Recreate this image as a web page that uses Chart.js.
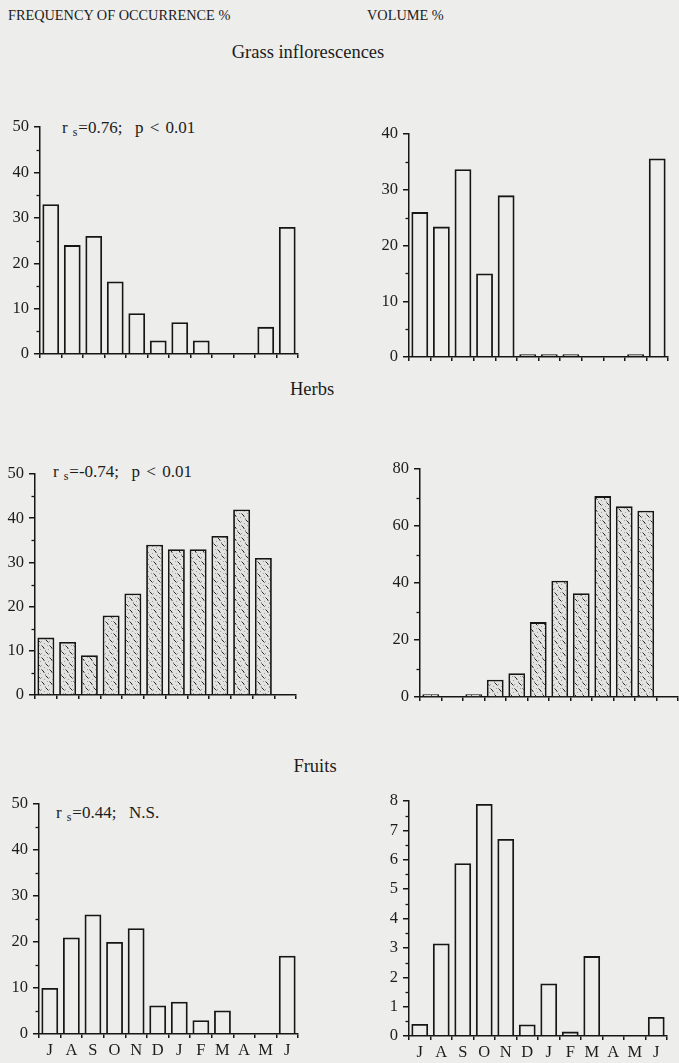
<!DOCTYPE html>
<html><head><meta charset="utf-8">
<script src="https://cdn.jsdelivr.net/npm/chart.js@4.4.0/dist/chart.umd.min.js"></script>
<style>
html,body{margin:0;padding:0;background:#ededeb;}
body{width:679px;height:1063px;position:relative;overflow:hidden;font-family:"Liberation Serif","Times New Roman",serif;color:#1c1c1c;}
.t{position:absolute;white-space:nowrap;line-height:1;}
.hdr{font-size:14.3px;}
.sec{font-size:18.5px;transform:translateX(-50%);}
.ann{font-size:17px;word-spacing:2px;}
.ann sub{font-size:12px;vertical-align:-3px;margin:0 1px 0 5px;}
.pane{position:absolute;}
</style></head><body>
<div class="t hdr" style="left:8px;top:8px;">FREQUENCY OF OCCURRENCE %</div>
<div class="t hdr" style="left:367px;top:8px;">VOLUME %</div>
<div class="t sec" style="left:308px;top:43px;">Grass inflorescences</div>
<div class="t sec" style="left:312px;top:380px;">Herbs</div>
<div class="t sec" style="left:315px;top:757px;">Fruits</div>
<div class="t ann" style="left:62px;top:119px;">r<sub>s</sub>=0.76;&nbsp; p &lt; 0.01</div>
<div class="t ann" style="left:53px;top:463px;">r<sub>s</sub>=-0.74;&nbsp; p &lt; 0.01</div>
<div class="t ann" style="left:56px;top:804px;">r<sub>s</sub>=0.44;&nbsp; N.S.</div>
<script>
const months = ['J','A','S','O','N','D','J','F','M','A','M','J'];
const grassFreq  = [33, 24, 26, 16, 9, 3, 7, 3, 0, 0, 6, 28];
const grassVol   = [26, 23.4, 33.7, 15, 29, 0.5, 0.5, 0.5, 0, 0, 0.5, 35.6];
const herbsFreq  = [13, 12, 9, 18, 23, 34, 33, 33, 36, 42, 31, 0];
const herbsVol   = [1, 0.4, 1, 6.1, 8.4, 26.3, 40.8, 36.4, 70.5, 66.9, 65.4, 0];
const fruitsFreq = [10, 21, 26, 20, 23, 6.2, 7, 3, 5.1, 0, 0, 17];
const fruitsVol  = [0.41, 3.15, 5.88, 7.9, 6.71, 0.39, 1.79, 0.15, 2.72, 0, 0, 0.65];
const freqMax = 50, freqStep = 10, freqMinor = 5;

const FONT = '"Liberation Serif","Times New Roman",serif';
const INK = '#161616';

function makePattern(){
  const c = document.createElement('canvas'); c.width = 8; c.height = 12;
  const g = c.getContext('2d');
  g.fillStyle = '#e2e2e0'; g.fillRect(0,0,8,12);
  g.fillStyle = '#a0a0a0';
  [[0,0],[4,3],[2,7],[6,10],[7,5],[3,11]].forEach(([x,y])=>g.fillRect(x,y,1,1));
  g.strokeStyle = '#2a2a2a'; g.lineWidth = 1;
  g.beginPath();
  g.moveTo(0.5,1.5); g.lineTo(3.5,4.5);
  g.moveTo(4.5,7.5); g.lineTo(7.5,10.5);
  g.stroke();
  return g.createPattern(c,'repeat');
}

const minorTicks = {
  id: 'minorTicks',
  afterDraw(chart, args, opts){
    const s = chart.scales.y;
    if (!opts || !opts.step) return;
    const ctx = chart.ctx; ctx.save();
    ctx.strokeStyle = INK; ctx.lineWidth = 1.3;
    const n = Math.round((s.max - s.min)/opts.step);
    for (let i=1;i<n;i++){
      const v = s.min + i*opts.step;
      const r = v/opts.major;
      if (Math.abs(r-Math.round(r))<1e-6) continue;
      const y = Math.round(s.getPixelForValue(v))+0.5;
      ctx.beginPath(); ctx.moveTo(s.right-3.5,y); ctx.lineTo(s.right,y); ctx.stroke();
    }
    ctx.restore();
  }
};

function makeChart(p){
  const padL = 46, padT = 16, padR = 6;
  const bottom = p.labels ? 34 : 8;
  const W = (p.right-p.left)+padL+padR, H = (p.bottom-p.top)+padT+bottom;
  const div = document.createElement('div'); div.className='pane';
  div.style.left=(p.left-padL)+'px'; div.style.top=(p.top-padT)+'px';
  div.style.width=W+'px'; div.style.height=H+'px';
  const cv = document.createElement('canvas'); div.appendChild(cv); document.body.appendChild(div);
  new Chart(cv, {
    type:'bar',
    data:{labels:months, datasets:[{data:p.data, backgroundColor:p.fill, borderColor:INK, borderWidth:1.8,
      borderSkipped:'start', barPercentage:0.78, categoryPercentage:1}]},
    options:{responsive:true, maintainAspectRatio:false, animation:false, events:[],
      layout:{padding:{left:0, top:padT, right:padR, bottom:0}},
      plugins:{legend:{display:false}, tooltip:{enabled:false}, minorTicks:{step:p.minor, major:p.major}},
      scales:{
        x:{offset:true,
           grid:{offset:true, drawOnChartArea:false, drawTicks:true, tickLength:4, color:INK, lineWidth:1.5},
           border:{display:true, color:INK, width:1.5},
           ticks:{display:!!p.labels, font:{family:FONT, size:16.5}, color:'#1c1c1c', padding:3, maxRotation:0, autoSkip:false},
           afterFit(s){ s.height = bottom; }},
        y:{min:0, max:p.max,
           ticks:{stepSize:p.major, font:{family:FONT, size:16.5}, color:'#1c1c1c', padding:5},
           grid:{drawOnChartArea:false, drawTicks:true, tickLength:6, color:INK, lineWidth:1.5},
           border:{display:true, color:INK, width:1.5},
           afterFit(s){ s.width = padL; }}
      }},
    plugins:[minorTicks]
  });
}

const pat = makePattern();
const clear = 'rgba(0,0,0,0)';
makeChart({data:grassFreq,  fill:clear, max:freqMax, major:freqStep, minor:freqMinor, left:40,  right:298, top:127, bottom:361});
makeChart({data:grassVol,   fill:clear, max:40, major:10, minor:5,   left:409, right:668, top:134, bottom:364});
makeChart({data:herbsFreq,  fill:pat,   max:freqMax, major:freqStep, minor:freqMinor, left:35,  right:296, top:474, bottom:702});
makeChart({data:herbsVol,   fill:pat,   max:80, major:20, minor:10,  left:420, right:678, top:469, bottom:704});
makeChart({data:fruitsFreq, fill:clear, max:freqMax, major:freqStep, minor:freqMinor, left:39,  right:298, top:804, bottom:1034, labels:true});
makeChart({data:fruitsVol,  fill:clear, max:8, major:1, minor:0.5,   left:409, right:667, top:801, bottom:1036, labels:true});
</script>
</body></html>
